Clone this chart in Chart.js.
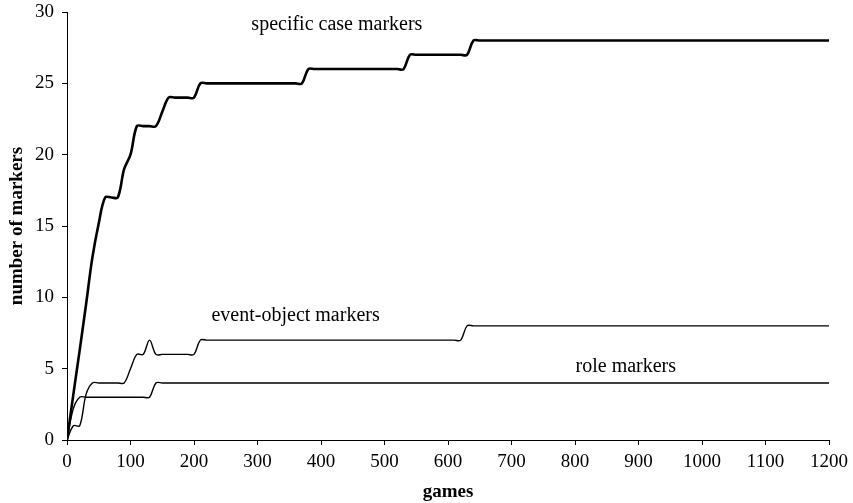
<!DOCTYPE html>
<html>
<head>
<meta charset="utf-8">
<script src="https://cdn.jsdelivr.net/npm/chart.js@4/dist/chart.umd.min.js"></script>
<style>
  html, body { margin: 0; padding: 0; background: #fff; }
  #wrap { width: 853px; height: 503px; position: relative; }
</style>
</head>
<body>
<div id="wrap"><canvas id="c" width="853" height="503"></canvas></div>
<script>
// ---- data ----
const xTicks = [0,100,200,300,400,500,600,700,800,900,1000,1100,1200];
const yTicks = [0,5,10,15,20,25,30];

const specificGames = [0,10,20,30,40,50,60,70,80,90,100,110,120,130,140,150,160,170,190,200,210,220,360,370,380,390,520,530,540,550,620,630,640,650,1200];
const specificCount = [0,3.2,6.3,9.5,12.8,15.2,17,17,17,19,20,22,22,22,22,23,24,24,24,24,25,25,25,25,26,26,26,26,27,27,27,27,28,28,28];

const eventGames = [0,10,20,30,40,50,80,90,100,110,120,130,140,150,190,200,210,220,610,620,630,640,1200];
const eventCount = [0,1,1,3.2,4,4,4,4,5,6,6,7,6,6,6,6,7,7,7,7,8,8,8];

const roleGames = [0,10,20,30,120,130,140,150,1200];
const roleCount = [0,2.2,3,3,3,3,4,4,4];

const seriesNames = ['specific case markers','event-object markers','role markers'];
// label anchor positions (data coordinates) for the in-plot series names
const labelAnchors = [
  {x: 425, y: 28.74},
  {x: 360, y: 8.34},
  {x: 880, y: 4.77}
];

function pts(xs, ys) { return xs.map((x, i) => ({x: x, y: ys[i]})); }

const serif = '"Liberation Serif", "Times New Roman", serif';

const seriesLabels = {
  id: 'seriesLabels',
  afterDatasetsDraw(chart) {
    const ctx = chart.ctx;
    const xs = chart.scales.x, ys = chart.scales.y;
    ctx.save();
    ctx.fillStyle = '#000';
    ctx.font = '20px ' + serif;
    ctx.textAlign = 'center';
    ctx.textBaseline = 'alphabetic';
    seriesNames.forEach((name, i) => {
      const a = labelAnchors[i];
      ctx.fillText(name, xs.getPixelForValue(a.x), ys.getPixelForValue(a.y));
    });
    ctx.restore();
  }
};

new Chart(document.getElementById('c'), {
  type: 'line',
  data: {
    datasets: [
      { label: seriesNames[0], data: pts(specificGames, specificCount), borderColor: '#000', borderWidth: 2.6, pointRadius: 0, tension: 0.35, fill: false },
      { label: seriesNames[1], data: pts(eventGames, eventCount), borderColor: '#000', borderWidth: 1.4, pointRadius: 0, tension: 0.35, fill: false },
      { label: seriesNames[2], data: pts(roleGames, roleCount), borderColor: '#000', borderWidth: 1.4, pointRadius: 0, tension: 0.35, fill: false }
    ]
  },
  options: {
    responsive: false,
    animation: false,
    layout: { padding: { top: 12, right: 24, bottom: 0, left: 6 } },
    plugins: { legend: { display: false }, tooltip: { enabled: false } },
    scales: {
      x: {
        type: 'linear', min: 0, max: 1200,
        afterBuildTicks(s) { s.ticks = xTicks.map(v => ({value: v})); },
        afterFit(s) { s.height = 503 - 440; s.paddingLeft = 0; s.paddingRight = 0; },
        grid: { drawOnChartArea: false, drawTicks: true, tickLength: 5, color: '#000', lineWidth: 1 },
        border: { display: true, color: '#000', width: 1 },
        ticks: { color: '#000', font: { family: serif, size: 19 }, padding: 6, maxRotation: 0, autoSkip: false,
                 callback: v => String(v) },
        title: { display: true, text: 'games', color: '#000', font: { family: serif, size: 19, weight: 'bold' }, padding: { top: 3, bottom: 0 } }
      },
      y: {
        type: 'linear', min: 0, max: 30,
        afterBuildTicks(s) { s.ticks = yTicks.map(v => ({value: v})); },
        afterFit(s) { s.width = 67 - 6; s.paddingTop = 0; s.paddingBottom = 0; },
        grid: { drawOnChartArea: false, drawTicks: true, tickLength: 5, color: '#000', lineWidth: 1 },
        border: { display: true, color: '#000', width: 1 },
        ticks: { color: '#000', font: { family: serif, size: 19 }, padding: 8, callback: v => String(v) },
        title: { display: true, text: 'number of markers', color: '#000', font: { family: serif, size: 19, weight: 'bold' }, padding: { top: 0, bottom: 2 } }
      }
    }
  },
  plugins: [seriesLabels]
});
</script>
</body>
</html>
